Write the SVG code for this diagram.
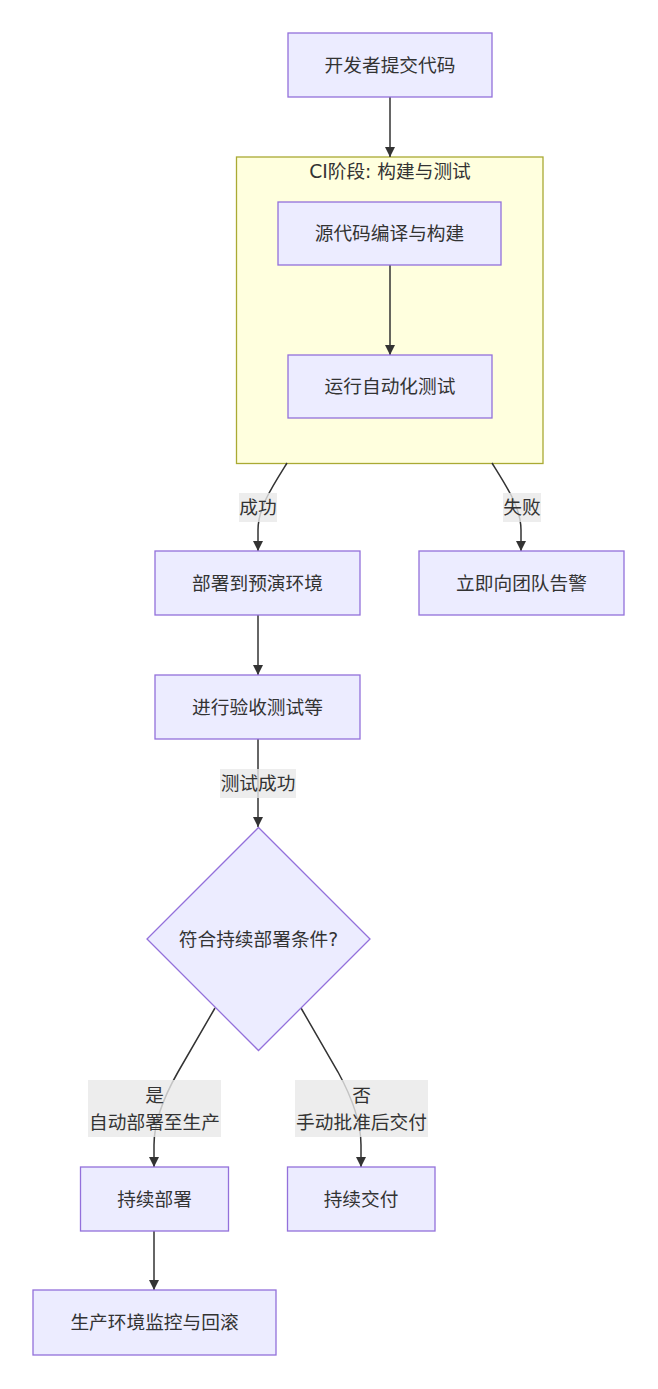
<svg xmlns="http://www.w3.org/2000/svg" width="658" height="1389" viewBox="0 0 658 1389">
<defs>
<style>
.node rect, .node polygon { fill: #ECECFF; stroke: #9370DB; stroke-width: 1.3; }
.cluster rect { fill: #ffffde; stroke: #aaaa33; stroke-width: 1.3; }
text { font-family: "DejaVu Sans", "Noto Sans CJK SC", sans-serif; font-size: 18.7px; fill: #333333; text-anchor: middle; }
.edges path { fill: none; stroke: #333333; stroke-width: 1.5; marker-end: url(#arrow); }
.elabel rect { fill: #e8e8e8; fill-opacity: 0.8; }
</style>
<marker id="arrow" viewBox="0 0 10 10" refX="10" refY="5" markerUnits="userSpaceOnUse" markerWidth="10" markerHeight="10" orient="auto">
<path d="M0,0 L10,5 L0,10 z" fill="#333333"/>
</marker>
</defs>
<rect width="658" height="1389" fill="#ffffff"/>
<g id="cluster-ci" class="cluster">
<rect x="236.5" y="157" width="306.5" height="306.5"/>
<text x="390" y="178">CI阶段: 构建与测试</text>
</g>
<g class="edges" id="connectors">
<path d="M390,97 L390,157"/>
<path d="M390,265 L390,355"/>
<path d="M287,463 C272,487 258,508 258,530 L258,551"/>
<path d="M492,463 C507,487 521,508 521,530 L521,551"/>
<path d="M258,615 L258,675"/>
<path d="M258,739 L258,827"/>
<path d="M215,1008 L178,1072 Q154,1114 154,1145 L154,1167"/>
<path d="M301,1008 L338,1072 Q361,1114 361,1145 L361,1167"/>
<path d="M154,1231 L154,1290"/>
</g>
<g id="edge-labels">
<g class="elabel"><rect x="239" y="493" width="38" height="29"/><text x="258" y="514">成功</text></g>
<g class="elabel"><rect x="503" y="493" width="38" height="29"/><text x="522" y="514">失败</text></g>
<g class="elabel"><rect x="220" y="769" width="76" height="29"/><text x="258" y="790">测试成功</text></g>
<g class="elabel"><rect x="88" y="1080" width="133" height="57"/><text x="154.5" y="1101.5">是</text><text x="154.5" y="1128.5">自动部署至生产</text></g>
<g class="elabel"><rect x="295" y="1080" width="133" height="57"/><text x="361.5" y="1101.5">否</text><text x="361.5" y="1128.5">手动批准后交付</text></g>
</g>
<g id="node-commit" class="node"><rect x="288" y="33" width="204" height="64"/><text x="390" y="71.5">开发者提交代码</text></g>
<g id="node-build" class="node"><rect x="278" y="202" width="223" height="63"/><text x="389.5" y="240">源代码编译与构建</text></g>
<g id="node-test" class="node"><rect x="288" y="355" width="204" height="63"/><text x="390" y="393">运行自动化测试</text></g>
<g id="node-staging" class="node"><rect x="155" y="551" width="205" height="64"/><text x="257.5" y="589.5">部署到预演环境</text></g>
<g id="node-alert" class="node"><rect x="419" y="551" width="205" height="64"/><text x="521.5" y="589.5">立即向团队告警</text></g>
<g id="node-accept" class="node"><rect x="155" y="675" width="205" height="64"/><text x="257.5" y="713.5">进行验收测试等</text></g>
<g id="node-decision" class="node"><polygon points="258.5,827.5 370,939 258.5,1050.5 147,939"/><text x="258.5" y="945.5">符合持续部署条件?</text></g>
<g id="node-cd" class="node"><rect x="80.5" y="1167" width="148" height="64"/><text x="154.5" y="1205.5">持续部署</text></g>
<g id="node-cdelivery" class="node"><rect x="287.5" y="1167" width="147.5" height="64"/><text x="361" y="1205.5">持续交付</text></g>
<g id="node-monitor" class="node"><rect x="33" y="1290" width="243" height="65"/><text x="154.5" y="1329">生产环境监控与回滚</text></g>
</svg>
